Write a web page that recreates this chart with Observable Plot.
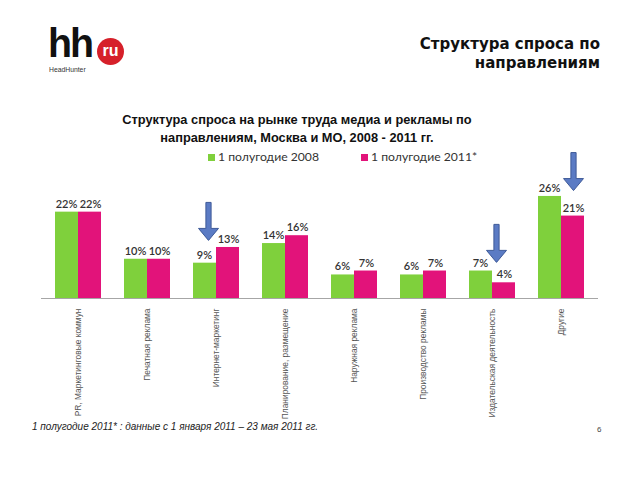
<!DOCTYPE html>
<html>
<head>
<meta charset="utf-8">
<script src="https://cdn.jsdelivr.net/npm/d3@7"></script>
<script src="https://cdn.jsdelivr.net/npm/@observablehq/plot@0.6"></script>
<style>
  body { margin: 0; background: #fff; }
  #page { position: relative; width: 640px; height: 480px; overflow: hidden; background: #fff; font-family: "Liberation Sans", Arial, sans-serif; }
  #chart { position: absolute; left: 0; top: 0; }
  .abs { position: absolute; white-space: nowrap; }
</style>
</head>
<body>
<div id="page">
  <div id="chart"></div>
  <!-- logo -->
  <div class="abs" style="left:48px;top:26px;font:bold 41px 'Liberation Sans';line-height:34px;letter-spacing:-2px;color:#111;transform:scaleX(0.96);transform-origin:left center;">hh</div>
  <div class="abs" style="left:97px;top:38px;width:27px;height:27px;border-radius:50%;background:#d6202a;color:#fff;font:bold 16px 'Liberation Sans';text-align:center;line-height:25px;">ru</div>
  <div class="abs" style="left:49px;top:65px;font:8px 'Liberation Sans';line-height:9px;color:#333;transform:scaleX(0.85);transform-origin:left center;">HeadHunter</div>
  <!-- slide title -->
  <div class="abs" style="right:40px;top:35px;text-align:right;font:bold 15px 'DejaVu Sans';line-height:19px;color:#111;">Структура спроса по<br>направлениям</div>
  <!-- chart title -->
  <div class="abs" style="left:0;width:594px;top:111px;text-align:center;font:bold 12.8px 'Liberation Sans';line-height:18px;color:#111;">Структура спроса на рынке труда медиа и рекламы по<br>направлениям, Москва и МО, 2008 - 2011 гг.</div>
  <!-- legend -->
  <div id="legend" class="abs" style="left:208px;top:149px;font:12.2px Lato;color:#333;"></div>
  <!-- footnote -->
  <div class="abs" style="left:32px;top:421px;font:italic 10px 'Liberation Sans';line-height:12px;color:#222;">1 полугодие 2011* : данные с 1 января 2011 – 23 мая 2011 гг.</div>
  <div class="abs" style="left:597px;top:425px;font:8px 'Liberation Sans';color:#444;">6</div>
</div>
<script>
const categories = ["PR, Маркетинговые коммун", "Печатная реклама", "Интернет-маркетинг", "Планирование, размещение", "Наружная реклама", "Производство рекламы", "Издательская деятельность", "Другие"];
const seriesNames = ["1 полугодие 2008", "1 полугодие 2011*"];
const values2008 = [22, 10, 9, 14, 6, 6, 7, 26];
const values2011 = [22, 10, 13, 16, 7, 7, 4, 21];
const arrowCategories = ["Интернет-маркетинг", "Издательская деятельность", "Другие"];
const arrowTips = [14.8, 9.2, 27.5];

const colors = ["#7fd03c", "#e2137a"];

const rows2008 = categories.map((c, i) => ({cat: c, v: values2008[i]}));
const rows2011 = categories.map((c, i) => ({cat: c, v: values2011[i]}));
const arrows = arrowCategories.map((c, i) => ({cat: c, y: arrowTips[i]}));

// down arrow symbol, tip at origin
const arrowSymbol = {
  draw(context, size) {
    const k = Math.sqrt(size / Math.PI) / 10;
    context.moveTo(0, 0);
    context.lineTo(-10 * k, -12 * k);
    context.lineTo(-2.6 * k, -12 * k);
    context.lineTo(-2.6 * k, -38 * k);
    context.lineTo(2.6 * k, -38 * k);
    context.lineTo(2.6 * k, -12 * k);
    context.lineTo(10 * k, -12 * k);
    context.closePath();
  }
};

const half = 23;
const arrowDx = [-8, 4, 12];

const chart = Plot.plot({
  width: 640,
  height: 480,
  marginLeft: 41,
  marginRight: 42,
  marginTop: 141,
  marginBottom: 182,
  style: {fontFamily: "Lato", background: "transparent"},
  x: {domain: categories, paddingInner: 0.34, paddingOuter: 0.17},
  y: {domain: [0, 40], axis: null},
  marks: [
    Plot.barY(rows2008, {x: "cat", y: "v", fill: colors[0], insetRight: half}),
    Plot.barY(rows2011, {x: "cat", y: "v", fill: colors[1], insetLeft: half}),
    Plot.ruleY([0], {stroke: "#a6a6a6", strokeWidth: 1.2}),
    Plot.text(rows2008, {x: "cat", y: "v", text: d => d.v + "%", dx: -12, dy: -8, fontSize: 11, fill: "#333", fontWeight: 600}),
    Plot.text(rows2011, {x: "cat", y: "v", text: d => d.v + "%", dx: 12, dy: -8, fontSize: 11, fill: "#333", fontWeight: 600}),
    ...arrows.map((a, i) => Plot.dot([a], {x: "cat", y: "y", symbol: arrowSymbol, r: 10, dx: arrowDx[i], fill: "#5b7bc4", stroke: "#3e5a98", strokeWidth: 1})),
    Plot.axisX({tickRotate: -90, tickSize: 0, tickPadding: 10, fontSize: 8.4, fill: "#555", label: null, fontFamily: "Liberation Sans"})
  ]
});
document.getElementById("chart").appendChild(chart);

const legend = document.getElementById("legend");
legend.innerHTML = seriesNames.map((s, i) =>
  `<span style="display:inline-block;margin-right:${i === 0 ? 42 : 0}px;"><span style="display:inline-block;width:7px;height:7px;background:${colors[i]};margin-right:3px;"></span>${s}</span>`
).join("");
</script>
</body>
</html>
